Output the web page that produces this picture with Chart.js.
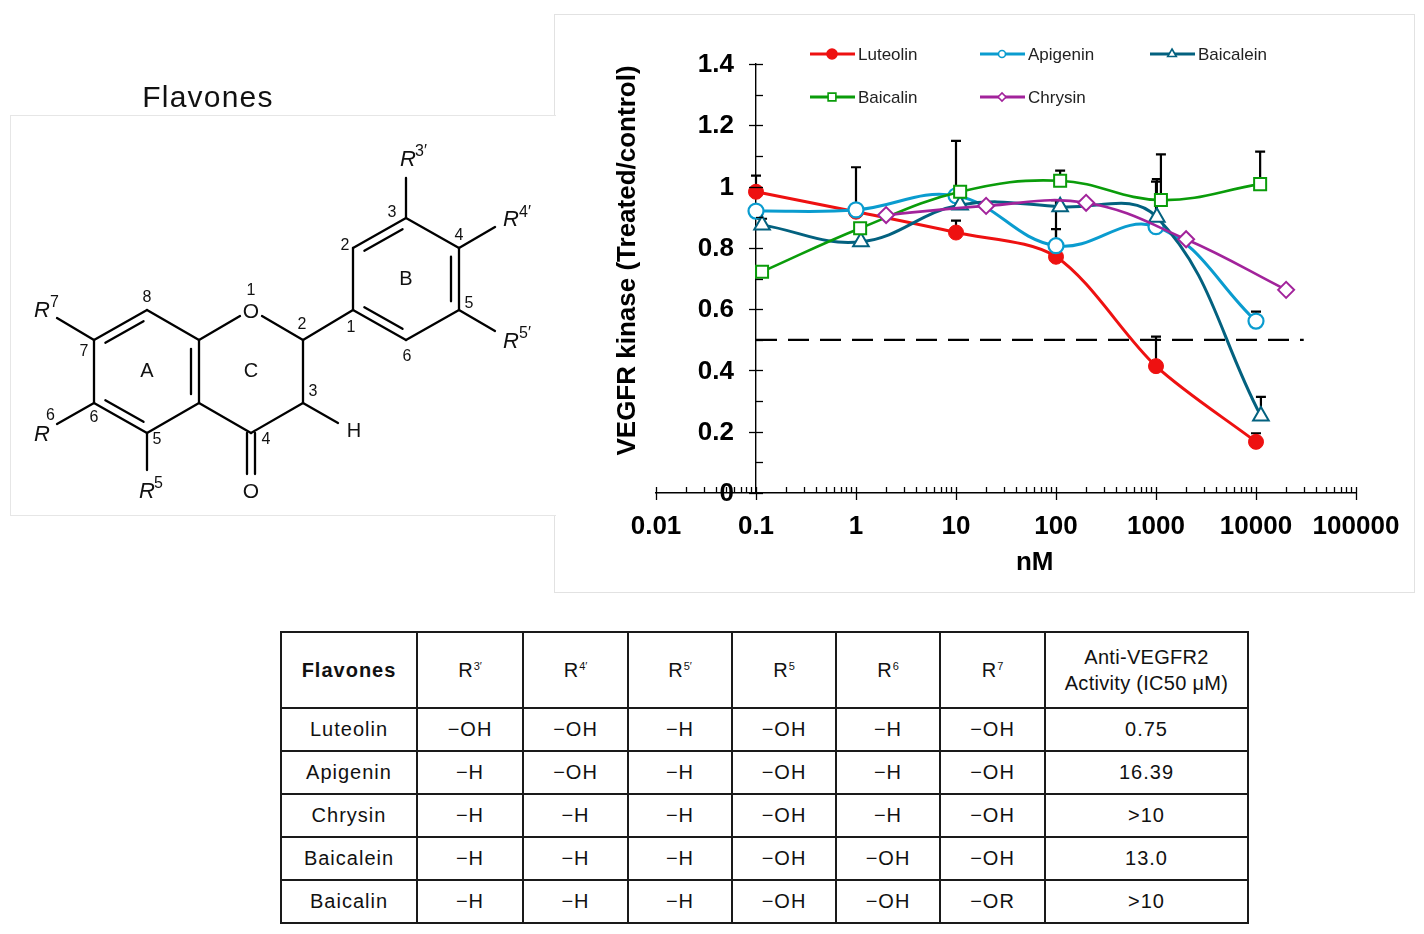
<!DOCTYPE html>
<html>
<head>
<meta charset="utf-8">
<script src="https://cdn.jsdelivr.net/npm/chart.js@4.4.1/dist/chart.umd.min.js"></script>
<style>
  html, body { margin: 0; padding: 0; background: #fff; }
  body { width: 1424px; height: 934px; position: relative; overflow: hidden; font-family: "Liberation Sans", Arial, sans-serif; }
  #chartFrame { position: absolute; left: 554px; top: 14px; width: 859px; height: 577px; border: 1px solid #e2e2e2; z-index: 1; }
  #structFrame { position: absolute; left: 10px; top: 115px; width: 545px; height: 399px; background: #fff;
                 border-top: 1px solid #e6e6e6; border-left: 1px solid #e6e6e6; border-bottom: 1px solid #e6e6e6; z-index: 2; }
  #chartCanvas { position: absolute; left: 554px; top: 14px; z-index: 3; }
  #struct { position: absolute; left: 0; top: 0; z-index: 4; }
  #tbl { position: absolute; left: 280px; top: 631px; border-collapse: collapse; table-layout: fixed; z-index: 4;
         color: #111; font-size: 20px; letter-spacing: 1px; }
  #tbl td, #tbl th { border: 2px solid #1a1a1a; text-align: center; vertical-align: middle; padding: 0; font-weight: normal; }
  #tbl th.first { font-weight: bold; }
  #tbl tr.head { height: 76px; }
  #tbl tr.row { height: 43px; }
  #tbl sup { font-size: 11px; letter-spacing: 0; vertical-align: 7px; }
  #tbl .two { line-height: 26px; letter-spacing: 0.3px; }
</style>
</head>
<body>
<div id="chartFrame"></div>
<div id="structFrame"></div>
<canvas id="chartCanvas" width="860" height="578"></canvas>
<svg id="struct" width="560" height="530" xmlns="http://www.w3.org/2000/svg"></svg>
<table id="tbl"></table>

<script>
// ---------------- DATA ----------------
const xTickLabels = ['0.01', '0.1', '1', '10', '100', '1000', '10000', '100000'];
const yTickLabels = ['0', '0.2', '0.4', '0.6', '0.8', '1', '1.2', '1.4'];

const luteolinX = [0.1, 1, 10, 100, 1000, 10000];
const luteolinY = [0.983, 0.918, 0.850, 0.771, 0.414, 0.167];
const luteolinErr = [0.053, 0, 0.039, 0.090, 0.096, 0.028];

const apigeninX = [0.1, 1, 10, 100, 1000, 10000];
const apigeninY = [0.920, 0.924, 0.970, 0.807, 0.869, 0.561];
const apigeninErr = [0, 0.139, 0.179, 0.149, 0.147, 0.031];

const baicaleinX = [0.115, 1.12, 11, 110, 1020, 11200];
const baicaleinY = [0.875, 0.820, 0.940, 0.934, 0.900, 0.251];
const baicaleinErr = [0.02, 0, 0, 0, 0.124, 0.063];

const baicalinX = [0.115, 1.1, 11, 110, 1120, 11000];
const baicalinY = [0.722, 0.864, 0.983, 1.019, 0.956, 1.008];
const baicalinErr = [0, 0, 0, 0.033, 0.149, 0.106];

const chrysinX = [2, 20, 200, 2000, 20000];
const chrysinY = [0.907, 0.937, 0.947, 0.828, 0.663];

const thresholdX = [0.1, 30000];
const thresholdY = [0.5, 0.5];

const legendOrder = ['Luteolin', 'Apigenin', 'Baicalein', 'Baicalin', 'Chrysin'];

// table data
const tableHeaders = ['Flavones', '3′', '4′', '5′', '5', '6', '7'];
const tableCompounds = ['Luteolin', 'Apigenin', 'Chrysin', 'Baicalein', 'Baicalin'];
const colR3p = ['−OH', '−H', '−H', '−H', '−H'];
const colR4p = ['−OH', '−OH', '−H', '−H', '−H'];
const colR5p = ['−H', '−H', '−H', '−H', '−H'];
const colR5 = ['−OH', '−OH', '−OH', '−OH', '−OH'];
const colR6 = ['−H', '−H', '−H', '−OH', '−OH'];
const colR7 = ['−OH', '−OH', '−OH', '−OH', '−OR'];
const colIC50 = ['0.75', '16.39', '>10', '13.0', '>10'];

// ---------------- STYLE ----------------
const FONT = '"Liberation Sans", Arial, sans-serif';
const RED = '#ee1111', CYAN = '#0a9ccf', TEAL = '#03617f', GREEN = '#0a9c0a', PURPLE = '#a2239b';
Chart.defaults.font.family = FONT;
Chart.defaults.color = '#000';

function pts(xs, ys) { return xs.map((x, i) => ({ x: x, y: ys[i] })); }

const datasets = [
  { label: 'Luteolin', data: pts(luteolinX, luteolinY), errors: luteolinErr, order: 4,
    borderColor: RED, backgroundColor: RED, borderWidth: 3, tension: 0.3,
    pointStyle: 'circle', pointRadius: 7.5, pointBackgroundColor: RED, pointBorderColor: RED, pointBorderWidth: 1,
    legendRadius: 5, legendFill: true },
  { label: 'Apigenin', data: pts(apigeninX, apigeninY), errors: apigeninErr, order: 3,
    borderColor: CYAN, backgroundColor: CYAN, borderWidth: 3, tension: 0.4,
    pointStyle: 'circle', pointRadius: 7.5, pointBackgroundColor: '#fff', pointBorderColor: CYAN, pointBorderWidth: 2.2,
    legendRadius: 3.5, legendFill: false },
  { label: 'Baicalein', data: pts(baicaleinX, baicaleinY), errors: baicaleinErr, order: 2,
    borderColor: TEAL, backgroundColor: TEAL, borderWidth: 3, tension: 0.4,
    pointStyle: 'triangle', pointRadius: 9, pointBackgroundColor: '#fff', pointBorderColor: TEAL, pointBorderWidth: 2,
    legendRadius: 5, legendFill: false },
  { label: 'Baicalin', data: pts(baicalinX, baicalinY), errors: baicalinErr, order: 1,
    borderColor: GREEN, backgroundColor: GREEN, borderWidth: 2.6, tension: 0.4,
    pointStyle: 'rect', pointRadius: 8.5, pointBackgroundColor: '#fff', pointBorderColor: GREEN, pointBorderWidth: 2,
    legendRadius: 5.5, legendFill: false },
  { label: 'Chrysin', data: pts(chrysinX, chrysinY), order: 0,
    borderColor: PURPLE, backgroundColor: PURPLE, borderWidth: 2.6, tension: 0.4,
    pointStyle: 'rectRot', pointRadius: 8, pointBackgroundColor: '#fff', pointBorderColor: PURPLE, pointBorderWidth: 2,
    legendRadius: 4, legendFill: false },
  { label: 'IC50', data: pts(thresholdX, thresholdY), order: 9,
    borderColor: '#000', borderWidth: 2.2, borderDash: [21, 11], pointRadius: 0, tension: 0, isRef: true }
];

// legend slot positions (canvas pixels)
const legendSlots = [[256, 40], [426, 40], [596, 40], [256, 83], [426, 83]];

function isDecade(v) {
  const l = Math.log10(v);
  return Math.abs(l - Math.round(l)) < 1e-6;
}
function isIntMantissa(v) {
  const e = Math.floor(Math.log10(v) + 1e-9);
  const m = v / Math.pow(10, e);
  return Math.abs(m - Math.round(m)) < 1e-6;
}

const decor = {
  id: 'decor',
  beforeDatasetsDraw(chart) {
    const { ctx, scales: { x, y } } = chart;
    ctx.save();
    ctx.strokeStyle = '#000';
    ctx.lineWidth = 2.2;
    chart.data.datasets.forEach(ds => {
      if (!ds.errors) return;
      ds.data.forEach((p, i) => {
        const e = ds.errors[i];
        if (!e) return;
        const px = x.getPixelForValue(p.x), py = y.getPixelForValue(p.y), pt = y.getPixelForValue(p.y + e);
        ctx.beginPath();
        ctx.moveTo(px, py); ctx.lineTo(px, pt);
        ctx.moveTo(px - 5, pt); ctx.lineTo(px + 5, pt);
        ctx.stroke();
      });
    });
    ctx.restore();
  },
  afterDraw(chart) {
    const { ctx, scales: { x, y }, chartArea } = chart;
    const x0 = x.getPixelForValue(0.1);
    const y0 = y.getPixelForValue(0);
    ctx.save();
    ctx.strokeStyle = '#000';
    ctx.lineWidth = 1.3;
    // x ticks
    x.ticks.forEach(t => {
      if (!isIntMantissa(t.value)) return;
      const px = Math.round(x.getPixelForValue(t.value)) + 0.5;
      ctx.beginPath();
      if (isDecade(t.value)) { ctx.moveTo(px, y0 - 6); ctx.lineTo(px, y0 + 7); }
      else { ctx.moveTo(px, y0 - 6); ctx.lineTo(px, y0); }
      ctx.stroke();
    });
    // y ticks
    y.ticks.forEach(t => {
      const py = Math.round(y.getPixelForValue(t.value)) + 0.5;
      const major = Math.round(t.value * 10) % 2 === 0;
      ctx.beginPath();
      ctx.moveTo(major ? x0 - 7 : x0, py); ctx.lineTo(x0 + 7, py);
      ctx.stroke();
    });
    // y labels
    ctx.fillStyle = '#000';
    ctx.font = 'bold 26px ' + FONT;
    ctx.textAlign = 'right';
    ctx.textBaseline = 'middle';
    yTickLabels.forEach(lbl => {
      ctx.fillText(lbl, x0 - 22, y.getPixelForValue(Number(lbl)) + 1);
    });
    // y title
    ctx.save();
    ctx.translate(x0 - 128, (chartArea.top + chartArea.bottom) / 2 - 18);
    ctx.rotate(-Math.PI / 2);
    ctx.textAlign = 'center';
    ctx.font = 'bold 26px ' + FONT;
    ctx.fillText('VEGFR kinase (Treated/control)', 0, 0);
    ctx.restore();
    // x title
    ctx.textAlign = 'center';
    ctx.font = 'bold 26px ' + FONT;
    ctx.fillText('nM', chartArea.left + (chartArea.right - chartArea.left) * 0.541, y0 + 70);
    // legend
    ctx.font = '17px ' + FONT;
    ctx.textAlign = 'left';
    legendOrder.forEach((name, i) => {
      const ds = chart.data.datasets.find(d => d.label === name);
      const [lx, ly] = legendSlots[i];
      ctx.strokeStyle = ds.borderColor;
      ctx.lineWidth = 3;
      ctx.beginPath(); ctx.moveTo(lx, ly); ctx.lineTo(lx + 45, ly); ctx.stroke();
      ctx.fillStyle = ds.legendFill ? ds.borderColor : '#fff';
      ctx.lineWidth = 1.6;
      Chart.helpers.drawPoint(ctx, { pointStyle: ds.pointStyle, radius: ds.legendRadius, rotation: 0, borderWidth: 1.6 }, lx + 22, ly);
      ctx.fillStyle = '#222';
      ctx.fillText(name, lx + 48, ly + 1);
    });
    ctx.restore();
  }
};

new Chart(document.getElementById('chartCanvas'), {
  type: 'line',
  data: { datasets: datasets },
  options: {
    responsive: false,
    animation: false,
    devicePixelRatio: 1,
    layout: { padding: { left: 102, right: 58, top: 50, bottom: 0 } },
    plugins: { legend: { display: false }, tooltip: { enabled: false } },
    scales: {
      x: {
        type: 'logarithmic', min: 0.01, max: 100000, position: 'bottom',
        grid: { display: false, drawTicks: false },
        border: { display: true, color: '#000', width: 1.4 },
        ticks: {
          autoSkip: false, maxRotation: 0, minRotation: 0, padding: 18, color: '#000',
          font: { size: 26, weight: 'bold', family: FONT },
          callback: (v) => {
            if (!isDecade(v)) return '';
            const idx = Math.round(Math.log10(v)) + 2;
            return xTickLabels[idx] || '';
          }
        },
        afterFit: (s) => { s.height = 99; s.paddingLeft = 0; s.paddingRight = 0; }
      },
      y: {
        type: 'linear', min: 0, max: 1.4, position: { x: 0.1 },
        grid: { display: false, drawTicks: false },
        border: { display: true, color: '#000', width: 1.4 },
        ticks: { display: false, stepSize: 0.1 }
      }
    }
  },
  plugins: [decor]
});

// ---------------- TABLE ----------------
(function buildTable() {
  const widths = [136, 106, 105, 104, 104, 104, 105, 203];
  const t = document.getElementById('tbl');
  let html = '<colgroup>' + widths.map(w => '<col style="width:' + w + 'px">').join('') + '</colgroup>';
  html += '<tr class="head"><th class="first">' + tableHeaders[0] + '</th>';
  for (let i = 1; i < tableHeaders.length; i++) html += '<th>R<sup>' + tableHeaders[i] + '</sup></th>';
  html += '<th><div class="two">Anti-VEGFR2<br>Activity (IC50 μM)</div></th></tr>';
  tableCompounds.forEach((c, i) => {
    html += '<tr class="row"><td>' + c + '</td><td>' + colR3p[i] + '</td><td>' + colR4p[i] + '</td><td>' + colR5p[i] +
      '</td><td>' + colR5[i] + '</td><td>' + colR6[i] + '</td><td>' + colR7[i] + '</td><td>' +
      colIC50[i].replace('>', '&gt;') + '</td></tr>';
  });
  t.innerHTML = html;
  t.style.width = widths.reduce((a, b) => a + b, 0) + 'px';
})();

// ---------------- STRUCTURE (SVG) ----------------
(function buildStructure() {
  const svg = document.getElementById('struct');
  const NS = 'http://www.w3.org/2000/svg';
  const A = {
    C8: [147, 310], C7: [94, 340], C6: [94, 403], C5: [147, 433], C4a: [199, 403], C8a: [199, 340],
    O1: [251, 310], C2: [303, 340], C3: [303, 403], C4: [251, 433],
    C1p: [353, 310], C2p: [353, 248], C3p: [406, 218], C4p: [459, 248], C5p: [459, 310], C6p: [406, 340]
  };
  const cA = [147, 371], cB = [406, 279];
  function line(x1, y1, x2, y2) {
    const l = document.createElementNS(NS, 'line');
    l.setAttribute('x1', x1); l.setAttribute('y1', y1); l.setAttribute('x2', x2); l.setAttribute('y2', y2);
    l.setAttribute('stroke', '#000'); l.setAttribute('stroke-width', '2.3'); l.setAttribute('stroke-linecap', 'round');
    svg.appendChild(l);
  }
  function bond(a, b) { line(A[a][0], A[a][1], A[b][0], A[b][1]); }
  function inner(a, b, c) {
    const p = A[a], q = A[b];
    const mx = (p[0] + q[0]) / 2, my = (p[1] + q[1]) / 2;
    let nx = -(q[1] - p[1]), ny = q[0] - p[0];
    const len = Math.hypot(nx, ny); nx /= len; ny /= len;
    if ((c[0] - mx) * nx + (c[1] - my) * ny < 0) { nx = -nx; ny = -ny; }
    const dx = q[0] - p[0], dy = q[1] - p[1], s = 0.14, d = 8;
    line(p[0] + dx * s + nx * d, p[1] + dy * s + ny * d, q[0] - dx * s + nx * d, q[1] - dy * s + ny * d);
  }
  function text(str, x, y, size, opts) {
    const t = document.createElementNS(NS, 'text');
    t.setAttribute('x', x); t.setAttribute('y', y);
    t.setAttribute('font-family', FONT); t.setAttribute('font-size', size);
    t.setAttribute('text-anchor', (opts && opts.anchor) || 'middle');
    t.setAttribute('dominant-baseline', 'central');
    if (opts && opts.italic) t.setAttribute('font-style', 'italic');
    if (opts && opts.spacing) t.setAttribute('letter-spacing', opts.spacing);
    t.setAttribute('fill', '#111');
    t.textContent = str;
    svg.appendChild(t);
    return t;
  }
  function rlabel(x, y, sup, sx, sy) {
    text('R', x, y, 22, { italic: true });
    text(sup, sx, sy, 16, { anchor: 'start' });
  }
  // ring A
  bond('C8', 'C7'); bond('C7', 'C6'); bond('C6', 'C5'); bond('C5', 'C4a'); bond('C4a', 'C8a'); bond('C8a', 'C8');
  inner('C7', 'C8', cA); inner('C5', 'C6', cA); inner('C4a', 'C8a', cA);
  // ring C
  line(199, 340, 240, 316);
  line(262, 316, 303, 340);
  bond('C2', 'C3'); bond('C3', 'C4'); bond('C4', 'C4a');
  line(247, 433, 247, 474); line(255, 433, 255, 474);
  line(303, 403, 338, 423);
  // C2 - C1'
  bond('C2', 'C1p');
  // ring B
  bond('C1p', 'C2p'); bond('C2p', 'C3p'); bond('C3p', 'C4p'); bond('C4p', 'C5p'); bond('C5p', 'C6p'); bond('C6p', 'C1p');
  inner('C2p', 'C3p', cB); inner('C4p', 'C5p', cB); inner('C6p', 'C1p', cB);
  // substituents
  line(406, 218, 406, 178);
  line(459, 248, 495, 227);
  line(459, 310, 495, 331);
  line(94, 340, 57, 318);
  line(94, 403, 57, 424);
  line(147, 433, 147, 470);
  // labels
  text('Flavones', 208, 96, 30, { spacing: '1.2' });
  text('O', 251, 310, 21); text('O', 251, 490, 21); text('H', 354, 430, 20);
  text('A', 147, 370, 20); text('B', 406, 278, 20); text('C', 251, 370, 20);
  const nums = [['8', 147, 296], ['7', 84, 350], ['6', 94, 416], ['5', 157, 438], ['1', 251, 289], ['2', 302, 323],
                ['3', 313, 390], ['4', 266, 438], ['1', 351, 326], ['2', 345, 244], ['3', 392, 211], ['4', 459, 234],
                ['5', 469, 302], ['6', 407, 355]];
  nums.forEach(n => text(n[0], n[1], n[2], 16));
  rlabel(408, 158, '3′', 415, 150);
  rlabel(511, 218, '4′', 519, 211);
  rlabel(511, 340, '5′', 519, 332);
  rlabel(42, 309, '7', 50, 301);
  rlabel(42, 433, '6', 46, 414);
  rlabel(147, 490, '5', 154, 482);
})();
</script>
</body>
</html>
